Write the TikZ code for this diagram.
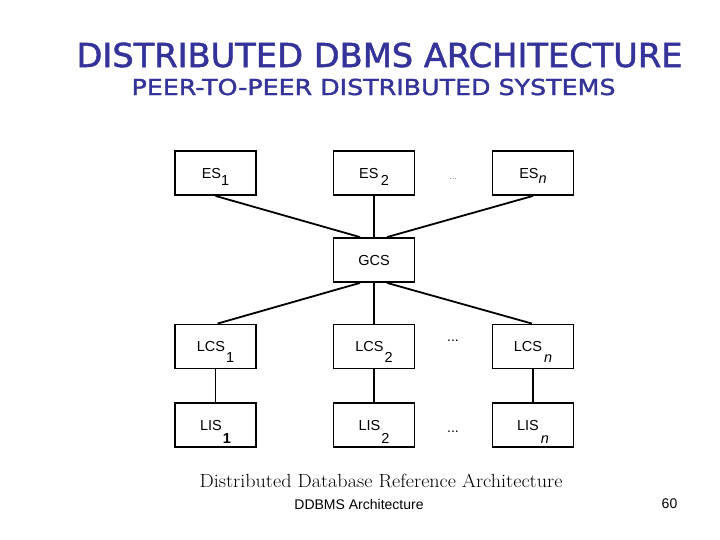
\documentclass[tikz,border=0pt]{standalone}
\usepackage{fontspec}
\setsansfont{Liberation Sans}
\newfontfamily\titlefont[FakeBold=1.5]{DejaVu Sans}
\definecolor{titleblue}{RGB}{51,51,153}
\newcommand{\idx}[2][7pt]{\raisebox{-#1}{#2}}
\begin{document}
\begin{tikzpicture}[x=1pt, y=-1pt,
		b/.style = {rectangle, draw=black, line width=1.8pt, minimum width=81pt, minimum height=44pt, text depth=0pt, font=\sffamily\fontsize{14.5}{14.5}\selectfont},
		d/.style = {font=\sffamily\fontsize{14}{14}\selectfont},
		t/.style = {text=titleblue},
		l/.style = {line width=1.8pt}
		]
		\useasboundingbox (0,0) rectangle (720,540);
		\fill[white] (0,0) rectangle (720,540);
		
		%Titles
		\node[t, font=\titlefont\fontsize{33}{33}\selectfont]	(title)	at	(379.5, 55)	{\scalebox{1.02}[1]{DISTRIBUTED DBMS ARCHITECTURE}};
		\node[t, font=\titlefont\fontsize{22}{22}\selectfont]	(sub)	at	(373.5, 87)	{\scalebox{1.15}[1]{PEER-TO-PEER DISTRIBUTED SYSTEMS}};
		
		%Nodes
		\node[b]	(es1)	at	(215.5, 173)	{ES\idx{1}};
		\node[b]	(es2)	at	(374, 173)		{ES\,\idx{2}};
		\node[b]	(esn)	at	(533, 173)		{ES\idx[5pt]{\textit{n}}};
		\node[b]	(gcs)	at	(374, 260)		{GCS};
		\node[b]	(lcs1)	at	(215.5, 346.5)	{LCS\kern1pt\idx[11pt]{1}};
		\node[b]	(lcs2)	at	(374, 346.5)	{LCS\kern1pt\idx[11pt]{2}};
		\node[b]	(lcsn)	at	(533, 346.5)	{LCS\kern2pt\idx[11pt]{\textit{n}}};
		\node[b]	(lis1)	at	(215.5, 425)	{LIS\kern1pt\idx[13pt]{\textbf{1}}};
		\node[b]	(lis2)	at	(374, 425)		{LIS\kern1pt\idx[13pt]{2}};
		\node[b]	(lisn)	at	(533, 425)		{LIS\kern2pt\idx[13pt]{\textit{n}}};
		\node[d, text=gray, font=\sffamily\fontsize{9}{9}\selectfont]	(dots1)	at	(453, 179)	{...};
		\node[d]	(dots2)	at	(453, 341)	{...};
		\node[d]	(dots3)	at	(453, 432)	{...};
		
		%Captions
		\node[font=\rmfamily\fontsize{19}{19}\selectfont]	(cap)	at	(381, 481)	{\scalebox{1.06}[1]{Distributed Database Reference Architecture}};
		\node[d]	(foot)	at	(359, 504)	{DDBMS Architecture};
		\node[d]	(page)	at	(669.5, 504)	{60};
		
		%Lines
		\draw[l]	(es1.south)	--	([xshift=-14pt]gcs.north);
		\draw[l]	(es2.south)	--	(gcs.north);
		\draw[l]	(esn.south)	--	([xshift=13pt]gcs.north);
		\draw[l]	([xshift=-14pt]gcs.south)	--	([xshift=2pt]lcs1.north);
		\draw[l]	(gcs.south)	--	(lcs2.north);
		\draw[l]	([xshift=13pt]gcs.south)	--	([xshift=-1pt]lcsn.north);
		\draw[l]	(lcs1.south)	--	(lis1.north);
		\draw[l]	(lcs2.south)	--	(lis2.north);
		\draw[l]	(lcsn.south)	--	(lisn.north);
	\end{tikzpicture}
\end{document}
